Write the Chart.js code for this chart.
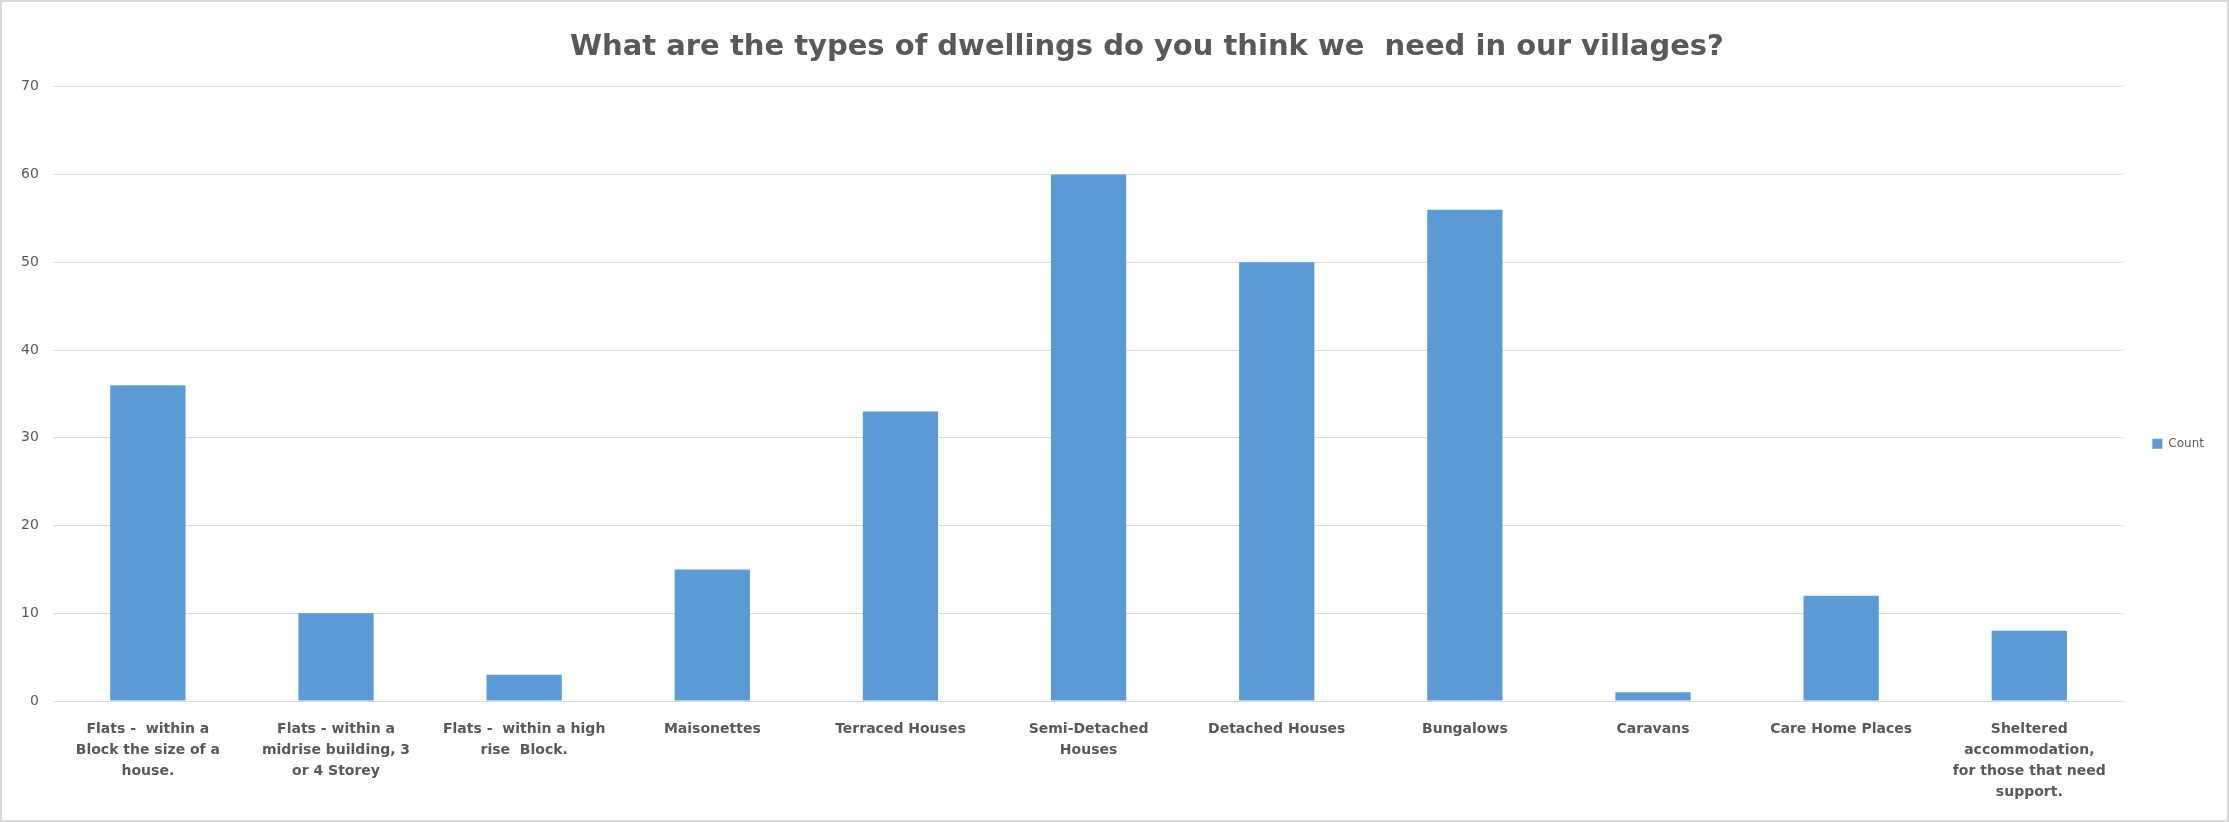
<!doctype html>
<html lang="en">
  <head>
    <meta charset="UTF-8" />
    <title>Types of dwellings</title>
    <script src="https://cdn.jsdelivr.net/npm/chart.js"></script>
    <style>
      body { margin: 0; background: #fff; }
      #wrap {
        position: absolute; left: 0; top: 0;
        width: 2229px; height: 822px;
        box-sizing: border-box;
        border: 2px solid #d9d9d9;
        background: #fff;
      }
    </style>
  </head>
  <body>
    <div id="wrap"><canvas id="dwellingsChart"></canvas></div>

    <script>
      // dwelling types (wrapped the way they appear under the bars)
      var labels_dwellings = [
        ["Flats -  within a", "Block the size of a", "house."],
        ["Flats - within a", "midrise building, 3", "or 4 Storey"],
        ["Flats -  within a high", "rise  Block."],
        "Maisonettes",
        "Terraced Houses",
        ["Semi-Detached", "Houses"],
        "Detached Houses",
        "Bungalows",
        "Caravans",
        "Care Home Places",
        ["Sheltered", "accommodation,", "for those that need", "support."],
      ];
      var data_counts = [36, 10, 3, 15, 33, 60, 50, 56, 1, 12, 8];
      var y_max = 70;
      var y_step = 10;

      var grey = "#595959";

      // the title in the original sits a bit right of the canvas centre
      var nudgeTitle = {
        id: "nudgeTitle",
        afterLayout: function (chart) {
          if (chart.titleBlock) {
            chart.titleBlock.left += 37;
            chart.titleBlock.right += 37;
          }
        },
      };

      var ctx = document.getElementById("dwellingsChart").getContext("2d");
      var dwellingsChart = new Chart(ctx, {
        type: "bar",
        data: {
          labels: labels_dwellings,
          datasets: [
            {
              label: "Count",
              data: data_counts,
              backgroundColor: "#5b9bd5",
              borderWidth: 0,
              barPercentage: 0.4,
              categoryPercentage: 1.0,
            },
          ],
        },
        options: {
          responsive: true,
          maintainAspectRatio: false,
          animation: false,
          layout: { padding: { left: 4, right: 13, top: 0, bottom: 7 } },
          plugins: {
            title: {
              display: true,
              text: "What are the types of dwellings do you think we  need in our villages?",
              color: grey,
              font: { family: "DejaVu Sans", size: 29, weight: "bold" },
              padding: { top: 28, bottom: 22 },
            },
            legend: {
              position: "right",
              // empty title only pushes the single item down a little
              title: { display: true, text: " ", padding: { top: 58, bottom: 0 } },
              labels: {
                color: grey,
                font: { family: "DejaVu Sans", size: 12 },
                boxWidth: 10,
                boxHeight: 10,
                padding: 29,
              },
            },
            tooltip: { enabled: false },
          },
          scales: {
            x: {
              grid: { display: false },
              border: { color: "#d9d9d9", width: 1 },
              ticks: {
                color: grey,
                font: { family: "DejaVu Sans", size: 14, weight: "bold", lineHeight: 1.5 },
                maxRotation: 0,
                autoSkip: false,
                padding: 10,
              },
            },
            y: {
              min: 0,
              max: y_max,
              grid: { color: "#d9d9d9", drawTicks: false },
              border: { display: false },
              ticks: {
                stepSize: y_step,
                color: grey,
                font: { family: "DejaVu Sans", size: 14 },
                padding: 15,
              },
            },
          },
        },
        plugins: [nudgeTitle],
      });
    </script>
  </body>
</html>
